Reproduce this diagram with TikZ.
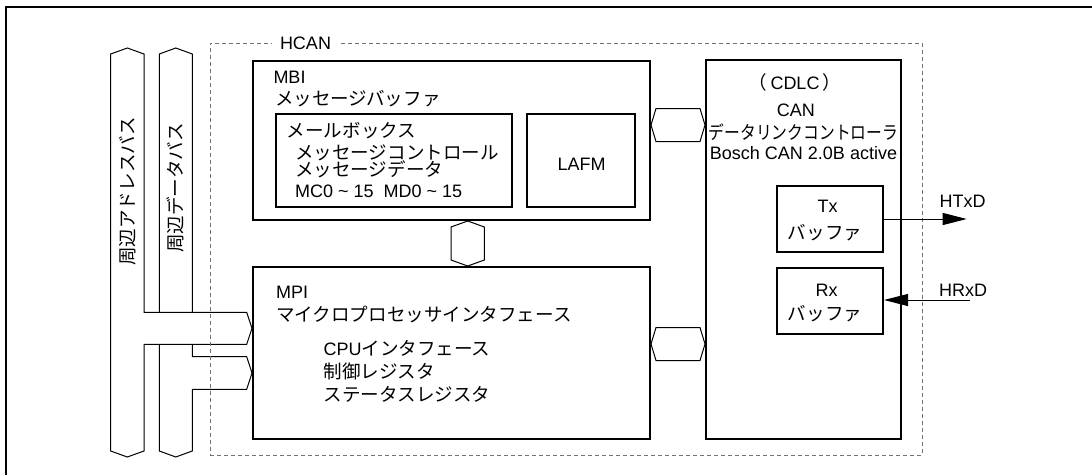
\documentclass[tikz,border=0pt]{standalone}
\usepackage{fontspec}
\usepackage{graphicx}
\setmainfont{Liberation Sans}
\newfontfamily\jp[Scale=1.03]{Noto Sans CJK JP}
\usetikzlibrary{arrows.meta,calc,backgrounds}

% hexagonal two-way link, horizontal and vertical
\newcommand{\hlink}[2]{%
  \draw[link] (#1) -- ($(#1)+(5,-16.5)$) -- ($(#2)+(-5,-16.5)$) -- (#2)
    -- ($(#2)+(-5,16.5)$) -- ($(#1)+(5,16.5)$) -- cycle;}
\newcommand{\vlink}[2]{%
  \draw[link] (#1) -- ($(#1)+(16.7,6)$) -- ($(#2)+(16.7,-6)$) -- (#2)
    -- ($(#2)+(-16.7,-6)$) -- ($(#1)+(-16.7,6)$) -- cycle;}

\begin{document}
\begin{tikzpicture}[
    x=1pt, y=-1pt,
    font=\fontsize{18}{21}\selectfont,
    blk/.style={draw, line width=2pt, inner sep=0pt},
    txt/.style={anchor=west, inner sep=0pt},
    link/.style={draw, line width=1pt, fill=white},
    bus/.style={draw, line width=1pt, fill=white},
    sig/.style={line width=1pt, -{Triangle[length=24pt, width=12pt]}}
]
    \useasboundingbox (0,0) rectangle (1092,475);
    \draw[line width=2pt] (6,475) -- (6,7) -- (1092,7);

    % blocks
    \node[blk, minimum width=397, minimum height=159] (mbi) at (451.5,140.5) {};
    \node[blk, minimum width=236, minimum height=93] (mbox) at (394,160.5) {};
    \node[blk, minimum width=108, minimum height=93] (lafm) at (581,160.5) {};
    \node[blk, minimum width=397, minimum height=172] (mpi) at (451.5,353) {};
    \node[blk, minimum width=195, minimum height=379] (cdlc) at (803.5,249.5) {};
    \node[blk, minimum width=106, minimum height=66] (tx) at (830,219) {};
    \node[blk, minimum width=106, minimum height=66] (rx) at (830,301) {};

    % peripheral buses and HCAN frame
    \begin{scope}[on background layer]
        \draw[bus] (175.8,48) -- (192.3,54) -- (192.3,356.7) -- (246.7,356.7)
            -- (mpi.west |- 0,373) -- (246.7,389.3) -- (192.3,389.3)
            -- (192.3,451) -- (175.8,457) -- (159.3,451) -- (159.3,54) -- cycle;
        \draw[bus] (127.3,48) -- (144,54) -- (144,312.3) -- (246.7,312.3)
            -- (mpi.west |- 0,328.3) -- (246.7,344.3) -- (144,344.3)
            -- (144,451) -- (127.3,457) -- (110.7,451) -- (110.7,54) -- cycle;
        \node[draw=black!55, line width=1pt, dash pattern=on 4pt off 3pt,
            minimum width=712, minimum height=412] (hcan) at (566,249) {};
        \node[fill=white, inner xsep=8pt, inner ysep=2pt] (hcanT) at (305.5,43) {HCAN};
    \end{scope}
    \node[rotate=90] (abusT) at (127.3,191.5) {\jp 周辺アドレスバス};
    \node[rotate=90] (dbusT) at (175.8,188) {\jp 周辺データバス};

    % links
    \hlink{mbi.east |- 0,125}{cdlc.west |- 0,125}
    \hlink{mpi.east |- 0,344}{cdlc.west |- 0,344}
    \vlink{mbi.south -| 467.7,0}{mpi.north -| 467.7,0}

    % MBI
    \node[txt] (mbiT) at (273.3,77.5) {MBI};
    \node[txt] (mbiJ) at (275,99) {\jp メッセージバッファ};
    \node[txt] (mboxT) at (286.7,131) {\jp メールボックス};
    \node[txt] (mctl) at (295,152.5) {\jp メッセージコントロール};
    \node[txt] (mdat) at (295,169) {\jp メッセージデータ};
    \node[txt] (mnum) at (295,191.7) {MC0 \textasciitilde{} 15\ \ MD0 \textasciitilde{} 15};
    \node (lafmT) at (581.7,164.5) {LAFM};

    % MPI
    \node[txt] (mpiT) at (276,292.5) {MPI};
    \node[txt] (mpiJ) at (276,314) {\jp マイクロプロセッサインタフェース};
    \node[txt] (cpuif) at (323.3,348.5) {CPU{\jp インタフェース}};
    \node[txt] (ctlreg) at (323.3,371) {\jp 制御レジスタ};
    \node[txt] (streg) at (323.3,394) {\jp ステータスレジスタ};

    % CDLC
    \node (cdlcT) at (795,82.5) {{\jp （}\,CDLC\,{\jp ）}};
    \node (canT) at (795.8,110) {CAN};
    \node (dlcJ) at (803.5,132.5) {\scalebox{0.85}[1]{\jp データリンクコントローラ}};
    \node (bosch) at (803.5,153.5) {Bosch CAN 2.0B active};
    \node (txT) at (827.5,206.7) {Tx};
    \node (txJ) at (825,232.5) {\jp バッファ};
    \node (rxT) at (826.7,290) {Rx};
    \node (rxJ) at (825,314) {\jp バッファ};

    % pins
    \coordinate (htxd) at (966.7,219);
    \coordinate (hrxd) at (970,300);
    \draw[sig] (tx.east) -- (htxd);
    \draw[sig] (hrxd) -- (hrxd -| rx.east);
    \node (htxdT) at (962.5,201.7) {HTxD};
    \node (hrxdT) at (963,290) {HRxD};
\end{tikzpicture}
\end{document}
